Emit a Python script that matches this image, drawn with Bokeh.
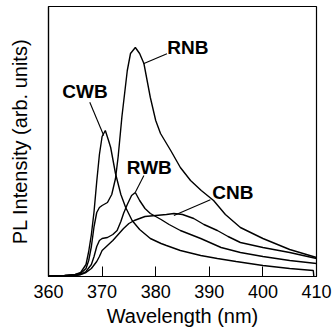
from bokeh.plotting import figure
from bokeh.models import Range1d, FixedTicker
from bokeh.embed import file_html
from bokeh.resources import INLINE
from bokeh.core.properties import value

# Wavelength (nm) and PL intensity (arb. units)
cwb_x = [360, 363, 365, 366, 367, 367.5, 368, 368.5, 369, 369.5, 370, 370.6, 371.2, 371.6, 372.5, 373.5, 374.4, 375.6, 377, 379, 381, 382, 384.6, 388.4, 391.5, 395, 400, 405, 409.4, 409.5]
cwb_y = [0.5, 1, 2, 4, 12, 25, 42, 65, 95, 122, 140, 146, 136, 129, 103, 82, 69, 56, 47, 38, 33, 31, 26, 21, 18, 15, 11, 8, 6, 0]

rnb_x = [360, 363, 365, 366, 367, 367.5, 368, 368.5, 369, 369.5, 370, 371, 371.8, 372.5, 373, 373.7, 374.7, 375.3, 376.2, 377, 377.8, 379, 380, 380.9, 382.8, 384.6, 386.5, 388.5, 390.8, 393, 395.8, 400, 405, 410]
rnb_y = [0.5, 1, 2, 3, 8, 16, 30, 50, 64, 69, 71, 74, 82, 98, 120, 160, 206, 223, 229, 223, 213, 179, 156, 143, 126, 109, 96, 86, 76, 62, 49, 38, 27, 19]

rwb_x = [360, 363, 365, 366, 367, 368, 368.5, 369, 369.5, 370, 371, 372, 372.8, 373.5, 374, 374.7, 375.5, 376.2, 377, 378, 379, 380, 381, 382.5, 384.6, 388.4, 392.2, 395.8, 400, 405, 410]
rwb_y = [0.3, 0.6, 1, 2, 5, 12, 20, 30, 36, 38, 39, 42, 46, 55, 63, 72, 81, 84, 76, 68, 63, 60, 57, 52, 46, 38, 29, 24, 20, 16, 13]

cnb_x = [360, 363, 365, 366, 367, 368, 369, 369.5, 370, 371, 372, 373, 374, 375, 376, 377, 378, 380, 382, 383.4, 385, 387.1, 389, 391.5, 393.5, 395.8, 400, 405, 410]
cnb_y = [0.3, 0.6, 1, 2, 4, 8, 15, 20, 26, 31, 36, 42, 48, 53, 56, 58, 60, 61, 62, 63, 62, 58, 52, 46, 40, 34, 29, 24, 18]

x_ticks = [360, 370, 380, 390, 400, 410]

# Curve labels: name, label centre, leader line start and end (data units)
labels = ["RNB", "CWB", "RWB", "CNB"]
label_x = [386.0, 366.8, 378.8, 394.4]
label_y = [229, 185, 109, 84]
lead_x0 = [382.1, 367.7, 377.8, 390.2]
lead_y0 = [222.7, 174.3, 101, 76.7]
lead_x1 = [377.7, 370.3, 376.2, 383.4]
lead_y1 = [212.7, 141, 84.3, 61]

FONT = "Liberation Sans"

p = figure(width=332, height=332, output_backend="svg", toolbar_location=None,
           x_range=Range1d(360, 410), y_range=Range1d(0, 270),
           min_border_left=48, min_border_right=16, min_border_top=6, min_border_bottom=56)
p.background_fill_color = "white"
p.border_fill_color = "white"
p.grid.visible = False
p.outline_line_color = "black"
p.outline_line_width = 1.2

for xs, ys in [(cwb_x, cwb_y), (rnb_x, rnb_y), (rwb_x, rwb_y), (cnb_x, cnb_y)]:
    p.line(xs, ys, line_color="black", line_width=1.4)

p.segment(x0=lead_x0, y0=lead_y0, x1=lead_x1, y1=lead_y1, line_color="black", line_width=1.1)
p.text(x=label_x, y=label_y, text=labels, text_align="center", text_baseline="middle",
       text_font=value(FONT), text_font_style="bold", text_font_size="19px", text_color="black")

xa = p.xaxis[0]
xa.ticker = FixedTicker(ticks=x_ticks)
xa.major_tick_in = 10
xa.major_tick_out = 0
xa.minor_tick_line_color = None
xa.axis_line_color = "black"
xa.axis_line_width = 1.2
xa.major_tick_line_color = "black"
xa.major_label_text_font = FONT
xa.major_label_text_font_size = "18px"
xa.major_label_text_color = "black"
xa.major_label_standoff = 8
xa.axis_label = "Wavelength (nm)"
xa.axis_label_text_font = FONT
xa.axis_label_text_font_size = "20px"
xa.axis_label_text_font_style = "normal"
xa.axis_label_text_color = "black"
xa.axis_label_standoff = 4

ya = p.yaxis[0]
ya.ticker = FixedTicker(ticks=[])
ya.major_tick_in = 0
ya.major_tick_out = 0
ya.minor_tick_line_color = None
ya.major_label_standoff = 0
ya.axis_line_color = "black"
ya.axis_line_width = 1.2
ya.axis_label = "PL Intensity (arb. units)"
ya.axis_label_text_font = FONT
ya.axis_label_text_font_size = "20px"
ya.axis_label_text_font_style = "normal"
ya.axis_label_text_color = "black"
ya.axis_label_standoff = 18

open("out.html", "w").write(file_html(p, INLINE))
